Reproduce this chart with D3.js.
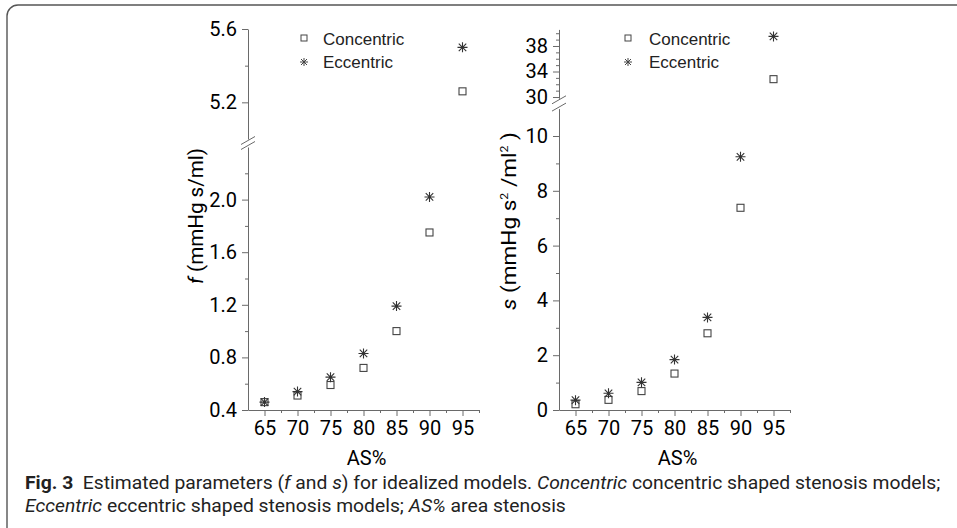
<!DOCTYPE html>
<html><head><meta charset="utf-8">
<script src="https://cdn.jsdelivr.net/npm/d3@7"></script>
<style>
body{margin:0;background:#fff;}
svg{display:block;}
.tick text{font-family:Roboto,"Noto Sans",sans-serif;font-size:20px;fill:#000;}
</style></head>
<body><svg id="c" width="957" height="528"></svg>
<script>
// ---- data ----
const asPct = [65, 70, 75, 80, 85, 90, 95];
const fConcentric = [0.46, 0.51, 0.59, 0.72, 1.00, 1.75, 5.26];
const fEccentric  = [0.46, 0.54, 0.65, 0.83, 1.19, 2.02, 5.50];
const sConcentric = [0.21, 0.37, 0.69, 1.33, 2.80, 7.38, 32.8];
const sEccentric  = [0.36, 0.61, 1.01, 1.84, 3.38, 9.24, 39.5];
const seriesNames = ["Concentric", "Eccentric"];
const xTicks = [65, 70, 75, 80, 85, 90, 95];
const xMinor = [67.5, 72.5, 77.5, 82.5, 87.5, 92.5, 97.5];
const fTicksLow = [0.4, 0.8, 1.2, 1.6, 2.0];
const fMinorLow = [0.6, 1.0, 1.4, 1.8, 2.2];
const fTicksHigh = [5.2, 5.6];
const fMinorHigh = [5.4];
const sTicksLow = [0, 2, 4, 6, 8, 10];
const sMinorLow = [1, 3, 5, 7, 9];
const sTicksHigh = [30, 34, 38];
const sMinorHigh = [31, 32, 33, 35, 36, 37, 39, 40];

const svg = d3.select("#c");
const axisColor = "#6a6a6a";
const markColor = "#444";

// frame
svg.append("rect").attr("x", 7).attr("y", 5).attr("width", 1000).attr("height", 600)
  .attr("rx", 11).attr("fill", "none").attr("stroke", "#555").attr("stroke-width", 1.4);

function starPath(r){
  const d = r*0.75;
  return `M0,${-r}L0,${r}M${-r},0L${r},0M${-d},${-d}L${d},${d}M${-d},${d}L${d},${-d}`;
}

function panel(cfg){
  const g = svg.append("g");
  const x = d3.scaleLinear().domain([62.5, 97.5]).range(cfg.xr);
  const yLo = d3.scaleLinear().domain(cfg.loDom).range(cfg.loRange);
  const yHi = d3.scaleLinear().domain(cfg.hiDom).range(cfg.hiRange);
  const y = v => v >= cfg.hiDom[0] ? yHi(v) : yLo(v);

  function styleAxis(sel){
    sel.selectAll("path,line").attr("stroke", axisColor).attr("stroke-width", 1);
  }
  g.append("g").attr("transform", `translate(0,${cfg.loRange[0]})`)
    .call(d3.axisBottom(x).tickValues(xTicks).tickSize(6).tickSizeOuter(0).tickPadding(5).tickFormat(d3.format("d")))
    .call(styleAxis);
  g.append("g").attr("transform", `translate(0,${cfg.loRange[0]})`)
    .call(d3.axisBottom(x).tickValues(xMinor).tickSize(3).tickSizeOuter(0).tickFormat(""))
    .call(styleAxis).select(".domain").remove();
  const ax = cfg.xr[0];
  g.append("g").attr("transform", `translate(${ax},0)`)
    .call(d3.axisLeft(yLo).tickValues(cfg.loTicks).tickSize(6).tickSizeOuter(0).tickPadding(5).tickFormat(cfg.fmt))
    .call(styleAxis);
  g.append("g").attr("transform", `translate(${ax},0)`)
    .call(d3.axisLeft(yLo).tickValues(cfg.loMinor).tickSize(3).tickSizeOuter(0).tickFormat(""))
    .call(styleAxis).select(".domain").remove();
  g.append("g").attr("transform", `translate(${ax},0)`)
    .call(d3.axisLeft(yHi).tickValues(cfg.hiTicks).tickSize(6).tickSizeOuter(0).tickPadding(5).tickFormat(cfg.fmt))
    .call(styleAxis);
  g.append("g").attr("transform", `translate(${ax},0)`)
    .call(d3.axisLeft(yHi).tickValues(cfg.hiMinor).tickSize(3).tickSizeOuter(0).tickFormat(""))
    .call(styleAxis).select(".domain").remove();
  [cfg.hiRange[0] + 1.5, cfg.loRange[1] - 1.5].forEach(by => {
    g.append("line").attr("x1", ax - 7).attr("y1", by + 4).attr("x2", ax + 7).attr("y2", by - 4)
      .attr("stroke", axisColor).attr("stroke-width", 1);
  });
  const conc = cfg.conc, ecc = cfg.ecc;
  g.selectAll(".sq").data(asPct.map((a, i) => [a, conc[i]])).join("rect")
    .attr("x", d => x(d[0]) - 3.5).attr("y", d => y(d[1]) - 3.5)
    .attr("width", 7).attr("height", 7).attr("fill", "none")
    .attr("stroke", markColor).attr("stroke-width", 1.1);
  g.selectAll(".st").data(asPct.map((a, i) => [a, ecc[i]])).join("path")
    .attr("transform", d => `translate(${x(d[0])},${y(d[1])})`)
    .attr("d", starPath(5)).attr("fill", "none")
    .attr("stroke", "#333").attr("stroke-width", 1.1);
  const lx = cfg.legX;
  g.append("rect").attr("x", lx - 3).attr("y", 38 - 3).attr("width", 6).attr("height", 6)
    .attr("fill", "none").attr("stroke", markColor).attr("stroke-width", 1);
  g.append("path").attr("transform", `translate(${lx},62)`).attr("d", starPath(4))
    .attr("fill", "none").attr("stroke", "#444").attr("stroke-width", 1);
  seriesNames.forEach((n, i) => {
    g.append("text").attr("x", cfg.legTextX).attr("y", 45 + 23 * i).text(n)
      .attr("font-family", "'Liberation Sans', Arial, sans-serif").attr("font-size", 17).attr("fill", "#222");
  });
  g.append("text").attr("x", (cfg.xr[0] + cfg.xr[1]) / 2 + 3).attr("y", 465)
    .attr("text-anchor", "middle").attr("font-family", "Roboto, sans-serif")
    .attr("font-size", 20).attr("fill", "#000").text("AS%");
  return g;
}

panel({
  xr: [248, 479], loDom: [0.4, 2.4], loRange: [410, 147], hiDom: [5.0, 5.6], hiRange: [139, 29],
  loTicks: fTicksLow, loMinor: fMinorLow, hiTicks: fTicksHigh, hiMinor: fMinorHigh,
  fmt: d3.format(".1f"), conc: fConcentric, ecc: fEccentric, legX: 304, legTextX: 323
});
panel({
  xr: [559, 790], loDom: [0, 11], loRange: [410, 108.6], hiDom: [29.8, 40.6], hiRange: [98.3, 29.4],
  loTicks: sTicksLow, loMinor: sMinorLow, hiTicks: sTicksHigh, hiMinor: sMinorHigh,
  fmt: d3.format("d"), conc: sConcentric, ecc: sEccentric, legX: 628, legTextX: 649
});

// y titles (stretched along their length to the reference span)
function yTitle(cx, cy, len, build){
  const t = svg.append("text").attr("text-anchor", "middle").attr("font-family", "Roboto, sans-serif")
    .attr("font-size", 20).attr("fill", "#000");
  build(t);
  const w = t.node().getComputedTextLength();
  t.attr("transform", `translate(${cx},${cy}) rotate(-90) scale(${len / w},1)`);
}
yTitle(203, 216, 136, t => {
  t.append("tspan").attr("font-style", "italic").text("f");
  t.append("tspan").text("  (mmHg s/ml)");
});
yTitle(516, 221, 178, t => {
  t.append("tspan").attr("font-style", "italic").text("s");
  t.append("tspan").text(" (mmHg s");
  t.append("tspan").attr("font-size", 11).attr("dy", -8).text("2");
  t.append("tspan").attr("dy", 8).text(" /ml");
  t.append("tspan").attr("font-size", 11).attr("dy", -8).text("2");
  t.append("tspan").attr("dy", 8).text(" )");
});

// caption
const line1 = [
  ["Fig. 3", "bold", "normal"], ["  Estimated parameters (", "normal", "normal"], ["f", "normal", "italic"],
  [" and ", "normal", "normal"], ["s", "normal", "italic"], [") for idealized models. ", "normal", "normal"],
  ["Concentric", "normal", "italic"], [" concentric shaped stenosis models;", "normal", "normal"]
];
const line2 = [
  ["Eccentric", "normal", "italic"], [" eccentric shaped stenosis models; ", "normal", "normal"],
  ["AS%", "normal", "italic"], [" area stenosis", "normal", "normal"]
];
function capLine(parts, yb){
  const t = svg.append("text").attr("x", 0).attr("y", 0).attr("font-family", "Roboto, sans-serif")
    .attr("font-size", 18).attr("fill", "#222").style("white-space", "pre");
  parts.forEach(p => t.append("tspan").attr("font-weight", p[1]).attr("font-style", p[2]).text(p[0]));
  return {t, yb};
}
const c1 = capLine(line1, 489), c2 = capLine(line2, 512);
const sx = (941 - 25) / c1.t.node().getComputedTextLength();
[c1, c2].forEach(c => c.t.attr("transform", `translate(25,${c.yb}) scale(${sx},1)`));
</script></body></html>
